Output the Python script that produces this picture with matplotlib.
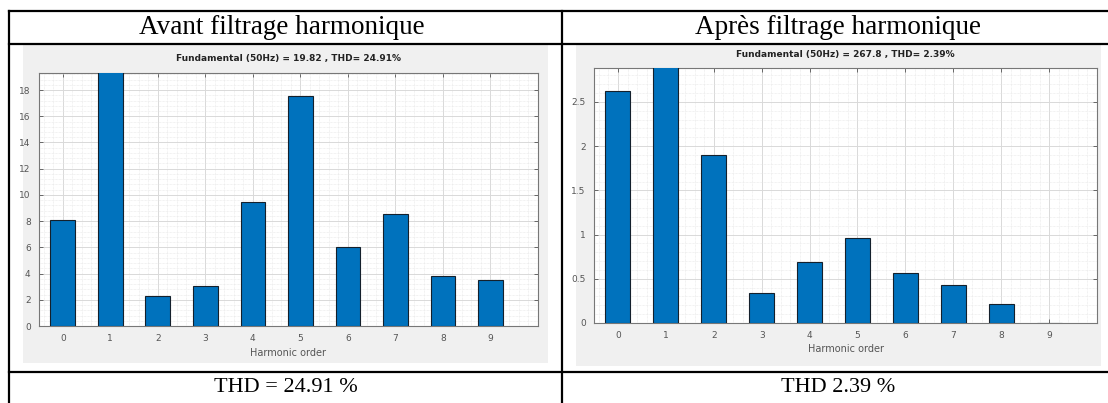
import matplotlib
matplotlib.use("Agg")
import matplotlib.pyplot as plt
from matplotlib.lines import Line2D
from matplotlib.patches import Rectangle
from matplotlib.ticker import MultipleLocator, FormatStrFormatter

# Harmonic spectra (magnitude per harmonic order)
orders = [0, 1, 2, 3, 4, 5, 6, 7, 8, 9]
before_mag = [8.11, 19.82, 2.32, 3.02, 9.47, 17.56, 6.0, 8.51, 3.83, 3.48]
after_mag = [2.62, 267.8, 1.905, 0.335, 0.693, 0.964, 0.569, 0.429, 0.211, 0.0]

before_title = "Fundamental (50Hz) = 19.82 , THD= 24.91%"
after_title = "Fundamental (50Hz) = 267.8 , THD= 2.39%"
header_left = "Avant filtrage harmonique"
header_right = "Après filtrage harmonique"
footer_left = "THD = 24.91 %"
footer_right = "THD 2.39 %"
xlabel_text = "Harmonic order"

W, H = 1108, 403
fig = plt.figure(figsize=(W / 100, H / 100), dpi=100)
fig.patch.set_facecolor("white")


def fx(x):
    return x / W


def fy(y):
    return 1 - y / H


def rect(x0, y0, x1, y1):
    return [fx(x0), fy(y1), fx(x1) - fx(x0), fy(y0) - fy(y1)]


# grey figure panels behind each spectrum
for (x0, y0, x1, y1) in [(23, 45, 548, 363), (576, 45, 1101, 366)]:
    fig.patches.append(Rectangle((fx(x0), fy(y1)), fx(x1) - fx(x0), fy(y0) - fy(y1),
                                 transform=fig.transFigure, facecolor="#f0f0f0",
                                 edgecolor="none", zorder=-5))

# table borders
lw = 1.6
for (x0, y0, x1, y1) in [(9, 10.5, W, 10.5), (9, 44, W, 44), (9, 372, W, 372),
                         (9, 10.5, 9, H), (562, 10.5, 562, H)]:
    fig.add_artist(Line2D([fx(x0), fx(x1)], [fy(y0), fy(y1)], transform=fig.transFigure,
                          color="black", linewidth=lw, solid_capstyle="projecting"))

serif = ["Liberation Serif", "DejaVu Serif"]
fig.text(fx(282), fy(27), header_left, ha="center", va="center", fontsize=19.5, family=serif)
fig.text(fx(838), fy(27), header_right, ha="center", va="center", fontsize=19.5, family=serif)
fig.text(fx(285.5), fy(388), footer_left, ha="center", va="center", fontsize=16, family=serif)
fig.text(fx(838), fy(388), footer_right, ha="center", va="center", fontsize=16, family=serif)


def spectrum(ax_rect, values, ymax, ystep, yminor, title, title_y):
    ax = fig.add_axes(ax_rect)
    ax.set_zorder(2)
    ax.set_facecolor("white")
    ax.bar(orders, values, width=0.52, color="#0072BD", edgecolor="#14202c",
           linewidth=0.8, zorder=3)
    ax.set_xlim(-0.5, 10)
    ax.set_ylim(0, ymax)
    ax.set_xticks(orders)
    ax.yaxis.set_major_locator(MultipleLocator(ystep))
    ax.yaxis.set_major_formatter(FormatStrFormatter("%g"))
    ax.yaxis.set_minor_locator(MultipleLocator(yminor))
    ax.xaxis.set_minor_locator(MultipleLocator(0.2))
    ax.grid(which="major", color="#d9d9d9", linewidth=0.7, zorder=0)
    ax.grid(which="minor", color="#e6e6e6", linewidth=0.5, linestyle=(0, (1, 1)), zorder=0)
    ax.set_axisbelow(True)
    ax.tick_params(which="major", direction="in", length=3, width=0.6, top=True, right=True,
                   labelsize=6.5, labelcolor="#555555", color="#555555", pad=6)
    ax.tick_params(which="minor", length=0, top=True, right=True)
    for s in ax.spines.values():
        s.set_color("#777777")
        s.set_linewidth(0.8)
    ax.set_xlabel(xlabel_text, fontsize=7, color="#555555", labelpad=3)
    fig.text(ax_rect[0] + ax_rect[2] / 2, fy(title_y), title, ha="center", va="center",
             fontsize=6.5, fontweight="bold", color="#222222")
    return ax


spectrum(rect(39, 73, 538, 326), before_mag, 19.3, 2, 0.4, before_title, 58)
spectrum(rect(594, 68, 1097, 323), after_mag, 2.884, 0.5, 0.1, after_title, 55)

fig.savefig("out.png", dpi=100)
